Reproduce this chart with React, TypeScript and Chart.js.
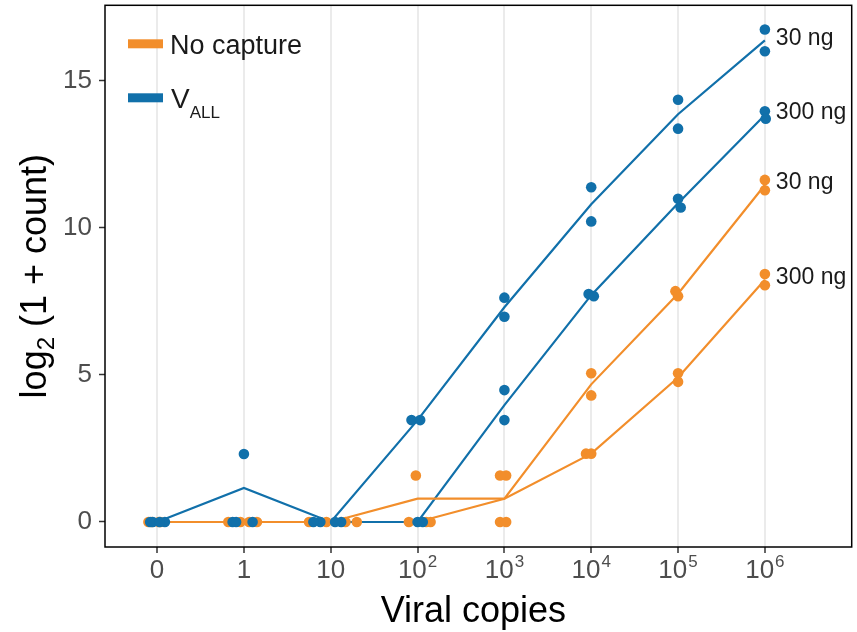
import React, { useEffect, useRef } from 'react';
import { Chart, registerables } from 'chart.js';

Chart.register(...registerables);

const FONT = "'Liberation Sans', Arial, Helvetica, sans-serif";
const ORANGE = '#F28E2B';
const BLUE = '#1170AA';

// Viral copies categories: base text + exponent
const tickBases = ['0', '1', '10', '10', '10', '10', '10', '10'];
const tickExps = ['', '', '', '2', '3', '4', '5', '6'];
const yTicks = [0, 5, 10, 15];

// log2(1 + count), two replicates per category
const vall30Rep1 = [0, 2.31, 0, 3.46, 7.62, 11.37, 14.34, 16.73];
const vall30Rep2 = [0, 0, 0, 3.46, 6.97, 10.21, 13.36, 15.99];
const vall300Rep1 = [0, 0, 0, 0, 4.48, 7.74, 10.98, 13.95];
const vall300Rep2 = [0, 0, 0, 0, 3.46, 7.67, 10.68, 13.7];
const nocap30Rep1 = [0, 0, 0, 1.58, 1.58, 5.05, 7.84, 11.62];
const nocap30Rep2 = [0, 0, 0, 0, 0, 4.3, 7.67, 11.27];
const nocap300Rep1 = [0, 0, 0, 0, 1.58, 2.32, 5.05, 8.42];
const nocap300Rep2 = [0, 0, 0, 0, 0, 2.32, 4.76, 8.04];

// horizontal jitter of each replicate, in category units
const vall30Jit1 = [-0.05, 0.0, -0.2, -0.07, 0, 0, 0, 0];
const vall30Jit2 = [0.03, -0.09, 0.05, 0.03, 0, 0, 0, 0];
const vall300Jit1 = [0.09, 0.1, -0.12, 0.0, 0, -0.03, 0, 0];
const vall300Jit2 = [-0.08, -0.13, 0.12, 0.06, 0, 0.03, 0.03, 0.01];
const nocap30Jit1 = [-0.1, -0.18, -0.25, -0.02, -0.05, 0, -0.03, 0];
const nocap30Jit2 = [0.04, 0.15, 0.17, 0.15, 0.02, 0, 0, 0];
const nocap300Jit1 = [0.02, -0.04, 0.3, -0.1, 0.02, -0.06, 0, 0];
const nocap300Jit2 = [-0.06, 0.06, -0.05, 0.1, -0.05, 0, 0, 0];

type Series = {
  label: string;
  color: string;
  rep1: number[];
  rep2: number[];
  jit1: number[];
  jit2: number[];
  lineOrder: number;
  pointOrder: number;
};

const series: Series[] = [
  { label: '300 ng', color: ORANGE, rep1: nocap300Rep1, rep2: nocap300Rep2, jit1: nocap300Jit1, jit2: nocap300Jit2, lineOrder: 20, pointOrder: 6 },
  { label: '300 ng', color: BLUE, rep1: vall300Rep1, rep2: vall300Rep2, jit1: vall300Jit1, jit2: vall300Jit2, lineOrder: 19, pointOrder: 2 },
  { label: '30 ng', color: ORANGE, rep1: nocap30Rep1, rep2: nocap30Rep2, jit1: nocap30Jit1, jit2: nocap30Jit2, lineOrder: 18, pointOrder: 5 },
  { label: '30 ng', color: BLUE, rep1: vall30Rep1, rep2: vall30Rep2, jit1: vall30Jit1, jit2: vall30Jit2, lineOrder: 17, pointOrder: 1 },
];

const meanOf = (s: Series) => s.rep1.map((v, i) => (v + s.rep2[i]) / 2);

const decorPlugin = {
  id: 'decor',
  afterDraw(chart: any) {
    const { ctx, chartArea: a, scales } = chart;
    const x = scales.x;
    const y = scales.y;
    ctx.save();

    // panel frame
    ctx.strokeStyle = '#000';
    ctx.lineWidth = 1.5;
    ctx.strokeRect(a.left, a.top, a.right - a.left, a.bottom - a.top);

    // x tick labels with exponents
    ctx.fillStyle = '#4d4d4d';
    ctx.textAlign = 'left';
    ctx.textBaseline = 'alphabetic';
    tickBases.forEach((b, i) => {
      const px = x.getPixelForValue(i);
      ctx.font = `26px ${FONT}`;
      const bw = ctx.measureText(b).width;
      ctx.font = `17px ${FONT}`;
      const ew = tickExps[i] ? ctx.measureText(tickExps[i]).width + 1 : 0;
      const start = px - (bw + ew) / 2;
      ctx.font = `26px ${FONT}`;
      ctx.fillText(b, start, a.bottom + 31);
      if (tickExps[i]) {
        ctx.font = `17px ${FONT}`;
        ctx.fillText(tickExps[i], start + bw + 1, a.bottom + 20);
      }
    });

    // x axis title
    ctx.fillStyle = '#000';
    ctx.font = `36px ${FONT}`;
    ctx.textAlign = 'center';
    ctx.fillText('Viral copies', (a.left + a.right) / 2 - 5, a.bottom + 75);

    // y axis title: log2 (1 + count)
    ctx.save();
    ctx.translate(46, (a.top + a.bottom) / 2);
    ctx.rotate(-Math.PI / 2);
    ctx.textAlign = 'left';
    const p1 = 'log';
    const p2 = '2';
    const p3 = ' (1 + count)';
    ctx.font = `36px ${FONT}`;
    const w1 = ctx.measureText(p1).width;
    const w3 = ctx.measureText(p3).width;
    ctx.font = `24px ${FONT}`;
    const w2 = ctx.measureText(p2).width;
    let sx = -(w1 + w2 + w3) / 2;
    ctx.font = `36px ${FONT}`;
    ctx.fillText(p1, sx, 0);
    sx += w1;
    ctx.font = `24px ${FONT}`;
    ctx.fillText(p2, sx, 8);
    sx += w2;
    ctx.font = `36px ${FONT}`;
    ctx.fillText(p3, sx, 0);
    ctx.restore();

    // legend
    const lx = a.left + 23;
    ctx.fillStyle = ORANGE;
    ctx.fillRect(lx, a.top + 34, 35, 9);
    ctx.fillStyle = BLUE;
    ctx.fillRect(lx, a.top + 88, 35, 9);
    ctx.fillStyle = '#1a1a1a';
    ctx.textAlign = 'left';
    ctx.font = `27px ${FONT}`;
    ctx.fillText('No capture', a.left + 65, a.top + 49);
    ctx.font = `28px ${FONT}`;
    ctx.fillText('V', a.left + 66, a.top + 103);
    const vw = ctx.measureText('V').width;
    ctx.font = `17px ${FONT}`;
    ctx.fillText('ALL', a.left + 66 + vw, a.top + 113);

    // dose labels at the last category
    ctx.font = `23px ${FONT}`;
    ctx.textBaseline = 'middle';
    ctx.fillStyle = '#1a1a1a';
    const last = tickBases.length - 1;
    series.forEach((s) => {
      const m = meanOf(s)[last];
      ctx.fillText(s.label, x.getPixelForValue(last) + 11, y.getPixelForValue(m) - 2);
    });

    ctx.restore();
  },
};

export default function App() {
  const ref = useRef<HTMLCanvasElement | null>(null);

  useEffect(() => {
    if (!ref.current) return;
    const datasets: any[] = [];
    series.forEach((s) => {
      const means = meanOf(s);
      datasets.push({
        type: 'line',
        data: means.map((v, i) => ({ x: i, y: v })),
        borderColor: s.color,
        borderWidth: 2.2,
        pointRadius: 0,
        fill: false,
        tension: 0,
        order: s.lineOrder,
      });
      datasets.push({
        type: 'scatter',
        data: [
          ...s.rep1.map((v, i) => ({ x: i + s.jit1[i], y: v })),
          ...s.rep2.map((v, i) => ({ x: i + s.jit2[i], y: v })),
        ],
        backgroundColor: s.color,
        borderWidth: 0,
        pointRadius: 5.3,
        showLine: false,
        order: s.pointOrder,
      });
    });

    const chart = new Chart(ref.current, {
      type: 'scatter',
      data: { datasets },
      options: {
        animation: false,
        responsive: false,
        devicePixelRatio: 1,
        layout: { padding: { top: 5, right: 2, left: 0, bottom: 0 } },
        plugins: { legend: { display: false }, tooltip: { enabled: false } },
        scales: {
          x: {
            type: 'linear',
            min: -0.6,
            max: 8.0,
            afterBuildTicks: (sc: any) => {
              sc.ticks = tickBases.map((_, i) => ({ value: i }));
            },
            afterFit: (sc: any) => {
              sc.height = 85;
              sc.paddingLeft = 0;
              sc.paddingRight = 0;
            },
            ticks: { display: false },
            grid: {
              color: '#ebebeb',
              lineWidth: 2,
              drawTicks: true,
              tickLength: 6,
              tickColor: '#333',
              tickWidth: 1.5,
            },
            border: { display: false },
          },
          y: {
            type: 'linear',
            min: -0.85,
            max: 17.55,
            afterBuildTicks: (sc: any) => {
              sc.ticks = yTicks.map((v) => ({ value: v }));
            },
            afterFit: (sc: any) => {
              sc.width = 105;
              sc.paddingTop = 0;
              sc.paddingBottom = 0;
            },
            ticks: {
              font: { family: FONT, size: 26 },
              color: '#4d4d4d',
              padding: 7,
            },
            grid: {
              drawOnChartArea: false,
              drawTicks: true,
              tickLength: 6,
              tickColor: '#333',
              tickWidth: 1.5,
            },
            border: { display: false },
          },
        },
      },
      plugins: [decorPlugin],
    });
    return () => chart.destroy();
  }, []);

  return (
    <div style={{ position: 'absolute', left: 0, top: 0, width: 857, height: 632, background: '#fff' }}>
      <canvas ref={ref} width={857} height={632} style={{ width: 857, height: 632 }} />
    </div>
  );
}
